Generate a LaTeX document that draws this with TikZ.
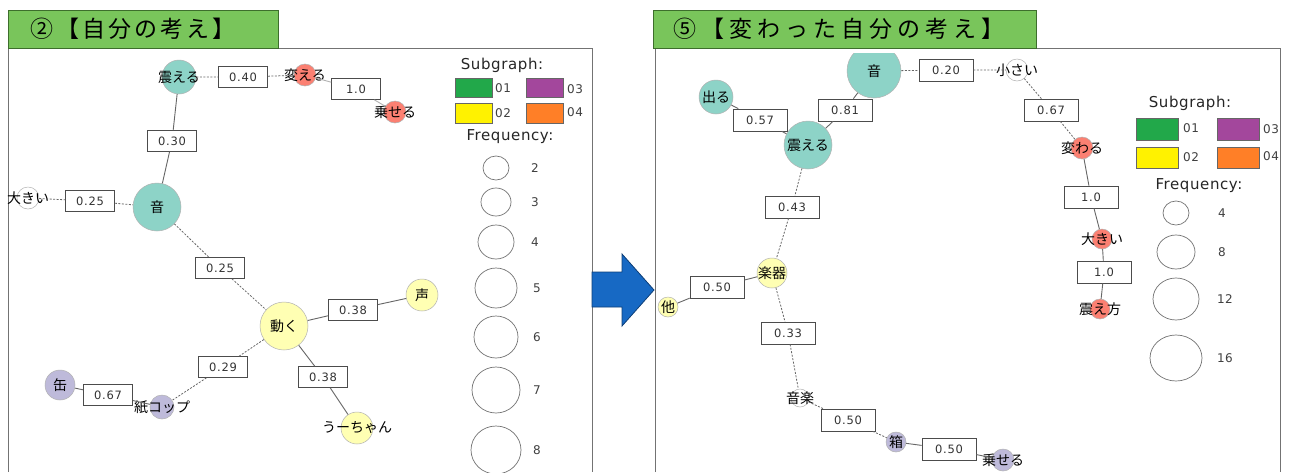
\documentclass[tikz,border=0pt]{standalone}
\usepackage{fontspec}
\usetikzlibrary{shapes.geometric}
\newfontfamily\jp{Noto Sans CJK JP}
\newfontfamily\jpta[LetterSpace=13]{Noto Sans CJK JP}
\newfontfamily\jptb[LetterSpace=22]{Noto Sans CJK JP}
\newfontfamily\nf[LetterSpace=6]{DejaVu Sans}
\newfontfamily\lf[LetterSpace=4]{DejaVu Sans}
\definecolor{cT}{HTML}{8DD3C7}
\definecolor{cY}{HTML}{FFFFB3}
\definecolor{cL}{HTML}{BEBADA}
\definecolor{cR}{HTML}{FB8072}
\definecolor{gG}{HTML}{22A84A}
\definecolor{gP}{HTML}{A3479C}
\definecolor{gY}{HTML}{FFF200}
\definecolor{gO}{HTML}{FF7F27}
\definecolor{tG}{HTML}{79C55B}
\definecolor{tGd}{HTML}{3D6E2C}
\definecolor{aB}{HTML}{1769C4}
\definecolor{aBd}{HTML}{0E3F78}
\begin{document}
\begin{tikzpicture}[x=1pt,y=-1pt,
  vx/.style={circle, draw=black!30, line width=0.5pt, inner sep=0pt},
  nl/.style={font=\jp\fontsize{14}{14}\selectfont, text=black, inner sep=0pt},
  wl/.style={draw=black!70, fill=white, line width=0.7pt, minimum width=49pt, minimum height=21pt, inner sep=0pt, font=\nf\fontsize{11.5}{12}\selectfont, text=black!80},
  wr/.style={wl, minimum width=54pt, minimum height=22pt},
  solE/.style={draw=black!60, line width=0.9pt},
  dotE/.style={draw=black!60, line width=0.8pt, dash pattern=on 2pt off 1.5pt},
  lgt/.style={font=\lf\fontsize{15}{15}\selectfont, text=black!85, inner sep=0pt},
  lgn/.style={font=\lf\fontsize{12}{12}\selectfont, text=black!75, inner sep=0pt},
  lbx/.style={draw=black!60, line width=0.6pt, inner sep=0pt},
  fq/.style={ellipse, draw=black!55, line width=0.7pt, inner sep=0pt},
  ttl/.style={draw=tGd, fill=tG, line width=1pt},
  pan/.style={draw=black!55, line width=1pt}
]
\useasboundingbox (0,0) rectangle (1290,472);
\fill[white] (0,0) rectangle (1290,472);

% ---------- panels ----------
\draw[pan] (8,472) -- (8,48) -- (592,48) -- (592,472);
\draw[pan] (655,472) -- (655,48) -- (1280,48) -- (1280,472);
\draw[ttl] (8,10) rectangle (278,48);
\draw[ttl] (653,10) rectangle (1036,48);
\node[anchor=west, inner sep=0pt, font=\jpta\fontsize{23}{23}\selectfont] (t1) at (30,29) {②【自分の考え】};
\node[anchor=west, inner sep=0pt, font=\jptb\fontsize{23}{23}\selectfont] (t2) at (673,29) {⑤【変わった自分の考え】};

% ---------- arrow ----------
\filldraw[fill=aB, draw=aBd, line width=0.8pt, line join=miter]
  (592,272) -- (622,272) -- (622,254) -- (654,290) -- (622,326) -- (622,307) -- (592,307) -- cycle;

% ---------- left graph ----------
\node[vx, minimum size=34pt, fill=cT, label={[nl]center:震える}] (a1) at (179,77) {};
\node[vx, minimum size=22pt, fill=cR, label={[nl]center:変える}] (a2) at (305,75) {};
\node[vx, minimum size=22pt, fill=cR, label={[nl]center:乗せる}] (a3) at (395,112) {};
\node[vx, minimum size=48pt, fill=cT, label={[nl]center:音}] (a4) at (157,207) {};
\node[vx, minimum size=22pt, fill=white, label={[nl]center:大きい}] (a5) at (28,198) {};
\node[vx, minimum size=48pt, fill=cY, label={[nl]center:動く}] (a6) at (284,326) {};
\node[vx, minimum size=32pt, fill=cY, label={[nl]center:声}] (a7) at (422,295) {};
\node[vx, minimum size=32pt, fill=cY, label={[nl]center:うーちゃん}] (a8) at (357,428) {};
\node[vx, minimum size=24pt, fill=cL, label={[nl]center:紙コップ}] (a9) at (162,407) {};
\node[vx, minimum size=30pt, fill=cL, label={[nl]center:缶}] (a10) at (60,385) {};

\node[wl] (w1) at (243,77) {0.40};
\node[wl] (w2) at (356,89) {1.0};
\node[wl] (w3) at (172,141) {0.30};
\node[wl] (w4) at (90,201) {0.25};
\node[wl] (w5) at (220,268) {0.25};
\node[wl] (w6) at (353,310) {0.38};
\node[wl] (w7) at (323,377) {0.38};
\node[wl] (w8) at (223,367) {0.29};
\node[wl] (w9) at (108,395) {0.67};

\draw[dotE] (a1) -- (w1) -- (a2);
\draw[solE, draw=black!30] (a2) -- (w2) -- (a3);
\draw[solE] (a1) -- (w3) -- (a4);
\draw[dotE] (a5) -- (w4) -- (a4);
\draw[dotE] (a4) -- (w5) -- (a6);
\draw[solE] (a6) -- (w6) -- (a7);
\draw[solE] (a6) -- (w7) -- (a8);
\draw[dotE] (a6) -- (w8) -- (a9);
\draw[solE] (a10) -- (w9) -- (a9);

% ---------- left legend ----------
\node[lgt] (ls) at (502,65) {Subgraph:};
\node[lbx, fill=gG, minimum width=37pt, minimum height=19pt] (lb1) at (473.5,87.5) {};
\node[lbx, fill=gP, minimum width=37pt, minimum height=19pt] (lb3) at (544.5,87.5) {};
\node[lbx, fill=gY, minimum width=37pt, minimum height=20pt] (lb2) at (473.5,113) {};
\node[lbx, fill=gO, minimum width=37pt, minimum height=20pt] (lb4) at (544.5,113) {};
\node[lgn, anchor=west] (ln1) at (495,88) {01};
\node[lgn, anchor=west] (ln3) at (567,89) {03};
\node[lgn, anchor=west] (ln2) at (495,113) {02};
\node[lgn, anchor=west] (ln4) at (567,112) {04};
\node[lgt] (lf) at (510,137) {Frequency:};
\node[fq, minimum width=26pt, minimum height=24pt] (lc2) at (496,168) {};
\node[fq, minimum width=30pt, minimum height=28pt] (lc3) at (496,202) {};
\node[fq, minimum width=36pt, minimum height=34pt] (lc4) at (496,242) {};
\node[fq, minimum width=42pt, minimum height=40pt] (lc5) at (496,288) {};
\node[fq, minimum width=44pt, minimum height=42pt] (lc6) at (496,337) {};
\node[fq, minimum width=48pt, minimum height=46pt] (lc7) at (496,390) {};
\node[fq, minimum width=50pt, minimum height=48pt] (lc8) at (496,450) {};
\node[lgn] (lv2) at (535,168) {2};
\node[lgn] (lv3) at (535,202) {3};
\node[lgn] (lv4) at (535,242) {4};
\node[lgn] (lv5) at (537,288) {5};
\node[lgn] (lv6) at (537,337) {6};
\node[lgn] (lv7) at (537,390) {7};
\node[lgn] (lv8) at (537,450) {8};

% ---------- right graph ----------
\begin{scope}
\clip (656,53) rectangle (1279,472);
\node[vx, minimum size=54pt, fill=cT, label={[nl]center:音}] (b1) at (874,71) {};
\end{scope}
\node[vx, minimum size=22pt, fill=white, label={[nl]center:小さい}] (b2) at (1017,70) {};
\node[vx, minimum size=22pt, fill=cR, label={[nl]center:変わる}] (b3) at (1082,148) {};
\node[vx, minimum size=20pt, fill=cR, label={[nl]center:大きい}] (b4) at (1102,239) {};
\node[vx, minimum size=20pt, fill=cR, label={[nl]center:震え方}] (b5) at (1100,309) {};
\node[vx, minimum size=34pt, fill=cT, label={[nl]center:出る}] (b6) at (716,97) {};
\node[vx, minimum size=48pt, fill=cT, label={[nl]center:震える}] (b7) at (808,145) {};
\node[vx, minimum size=30pt, fill=cY, label={[nl]center:楽器}] (b8) at (772,273) {};
\node[vx, minimum size=20pt, fill=cY, label={[nl]center:他}] (b9) at (668,307) {};
\node[vx, minimum size=18pt, fill=white, label={[nl]center:音楽}] (b10) at (800,398) {};
\node[vx, minimum size=20pt, fill=cL, label={[nl]center:箱}] (b11) at (896,442) {};
\node[vx, minimum size=22pt, fill=cL, label={[nl]center:乗せる}] (b12) at (1003,460) {};

\node[wr] (v1) at (946,70) {0.20};
\node[wr] (v2) at (1051,110) {0.67};
\node[wr] (v3) at (1091,197) {1.0};
\node[wr] (v4) at (1104,272) {1.0};
\node[wr] (v5) at (845,110) {0.81};
\node[wr] (v6) at (760,120) {0.57};
\node[wr] (v7) at (792,207) {0.43};
\node[wr] (v8) at (717,287) {0.50};
\node[wr] (v9) at (788,333) {0.33};
\node[wr] (v10) at (848,420) {0.50};
\node[wr] (v11) at (949,449) {0.50};

\draw[dotE] (b1) -- (v1) -- (b2);
\draw[dotE] (b2) -- (v2) -- (b3);
\draw[solE] (b3) -- (v3) -- (b4);
\draw[solE] (b4) -- (v4) -- (b5);
\draw[solE] (b1) -- (v5) -- (b7);
\draw[solE] (b6) -- (v6) -- (b7);
\draw[dotE] (b7) -- (v7) -- (b8);
\draw[solE] (b8) -- (v8) -- (b9);
\draw[dotE] (b8) -- (v9) -- (b10);
\draw[dotE] (b10) -- (v10) -- (b11);
\draw[solE] (b11) -- (v11) -- (b12);

% ---------- right legend ----------
\node[lgt] (rs) at (1190,103) {Subgraph:};
\node[lbx, fill=gG, minimum width=42pt, minimum height=22pt] (rb1) at (1157,129) {};
\node[lbx, fill=gP, minimum width=42pt, minimum height=22pt] (rb3) at (1238,129) {};
\node[lbx, fill=gY, minimum width=42pt, minimum height=21pt] (rb2) at (1157,157.5) {};
\node[lbx, fill=gO, minimum width=42pt, minimum height=21pt] (rb4) at (1238,157.5) {};
\node[lgn, anchor=west] (rn1) at (1183,128) {01};
\node[lgn, anchor=west] (rn3) at (1263,129) {03};
\node[lgn, anchor=west] (rn2) at (1183,157) {02};
\node[lgn, anchor=west] (rn4) at (1263,156) {04};
\node[lgt] (rf) at (1199,186) {Frequency:};
\node[fq, minimum width=26pt, minimum height=24pt] (rc4) at (1176,213) {};
\node[fq, minimum width=38pt, minimum height=34pt] (rc8) at (1176,252) {};
\node[fq, minimum width=46pt, minimum height=42pt] (rc12) at (1176,299) {};
\node[fq, minimum width=52pt, minimum height=46pt] (rc16) at (1176,358) {};
\node[lgn] (rv4) at (1222,213) {4};
\node[lgn] (rv8) at (1222,252) {8};
\node[lgn] (rv12) at (1225,299) {12};
\node[lgn] (rv16) at (1225,358) {16};
\end{tikzpicture}
\end{document}
